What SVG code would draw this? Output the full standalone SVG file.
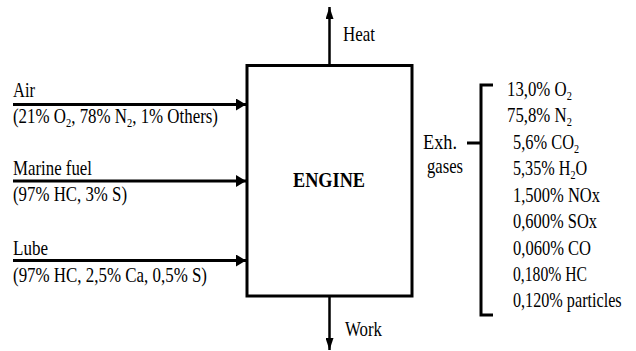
<svg xmlns="http://www.w3.org/2000/svg" width="636" height="351" viewBox="0 0 636 351">
<style>
text{font-family:"Liberation Serif","Times New Roman",serif;font-size:21px;fill:#000}
.b{font-weight:bold;font-size:22px}
.s{font-size:13px}
.ln{stroke:#000;stroke-width:3;fill:none}
</style>
<defs>
<marker id="ah" viewBox="0 0 10 12" refX="10" refY="6" markerWidth="10" markerHeight="12" markerUnits="userSpaceOnUse" orient="auto">
<path d="M0,0 L10,6 L0,12 Z" fill="#000"/>
</marker>
<marker id="av" viewBox="0 0 12 8" refX="12" refY="4" markerWidth="12" markerHeight="8" markerUnits="userSpaceOnUse" orient="auto">
<path d="M0,0 L12,4 L0,8 Z" fill="#000"/>
</marker>
</defs>
<rect width="636" height="351" fill="#fff"/>
<g id="engine">
<rect x="247" y="65.5" width="165" height="230.5" class="ln"/>
<text class="b" x="293" y="187" textLength="72" lengthAdjust="spacingAndGlyphs">ENGINE</text>
</g>
<g id="connectors">
<line class="ln" x1="13" y1="104.5" x2="246" y2="104.5" marker-end="url(#ah)"/>
<line class="ln" x1="13" y1="181" x2="246" y2="181" marker-end="url(#ah)"/>
<line class="ln" x1="13" y1="260.5" x2="246" y2="260.5" marker-end="url(#ah)"/>
<line class="ln" x1="329.5" y1="65" x2="329.5" y2="7" marker-end="url(#av)" style="stroke-width:2.5"/>
<line class="ln" x1="329.5" y1="296" x2="329.5" y2="350" marker-end="url(#av)" style="stroke-width:2.5"/>
<path class="ln" d="M493,85 H481 V315 H493 M467,143 H481"/>
</g>
<g id="air">
<text x="13" y="97" textLength="22" lengthAdjust="spacingAndGlyphs">Air</text>
<text transform="translate(13,123) scale(0.804,1)">(21% O<tspan class="s" dy="4">2</tspan><tspan dy="-4">, 78% N</tspan><tspan class="s" dy="4">2</tspan><tspan dy="-4">, 1% Others)</tspan></text>
</g>
<g id="fuel">
<text x="13" y="175" textLength="79" lengthAdjust="spacingAndGlyphs">Marine fuel</text>
<text x="13" y="201" textLength="114" lengthAdjust="spacingAndGlyphs">(97% HC, 3% S)</text>
</g>
<g id="lube">
<text x="13" y="255" textLength="35" lengthAdjust="spacingAndGlyphs">Lube</text>
<text x="13" y="282" textLength="194" lengthAdjust="spacingAndGlyphs">(97% HC, 2,5% Ca, 0,5% S)</text>
</g>
<g id="heat"><text x="343" y="41" textLength="32" lengthAdjust="spacingAndGlyphs">Heat</text></g>
<g id="work"><text x="345" y="336" textLength="37" lengthAdjust="spacingAndGlyphs">Work</text></g>
<g id="exh">
<text x="423" y="149" textLength="34" lengthAdjust="spacingAndGlyphs">Exh.</text>
<text x="427" y="173" textLength="36" lengthAdjust="spacingAndGlyphs">gases</text>
</g>
<g id="composition">
<text transform="translate(507,96) scale(0.8,1)">13,0% O<tspan class="s" dy="4">2</tspan></text>
<text transform="translate(507,122.4) scale(0.8,1)">75,8% N<tspan class="s" dy="4">2</tspan></text>
<text transform="translate(513,148.8) scale(0.78,1)">5,6% CO<tspan class="s" dy="4">2</tspan></text>
<text transform="translate(513,175) scale(0.77,1)">5,35% H<tspan class="s" dy="4">2</tspan><tspan dy="-4">O</tspan></text>
<text x="513" y="201.5" textLength="87" lengthAdjust="spacingAndGlyphs">1,500% NOx</text>
<text x="513" y="228" textLength="84" lengthAdjust="spacingAndGlyphs">0,600% SOx</text>
<text x="513" y="254.5" textLength="78" lengthAdjust="spacingAndGlyphs">0,060% CO</text>
<text x="513" y="281" textLength="74" lengthAdjust="spacingAndGlyphs">0,180% HC</text>
<text transform="translate(513,307) scale(0.77,1)">0,120% particles</text>
</g>
</svg>
